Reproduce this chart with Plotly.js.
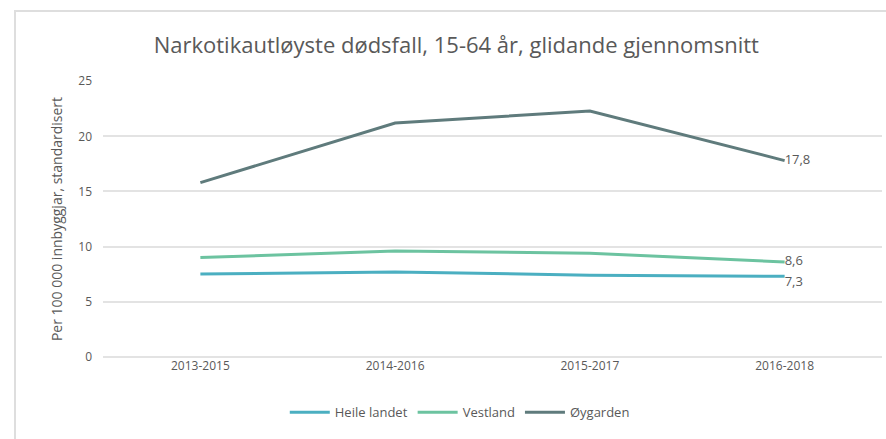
<!DOCTYPE html>
<html>
<head>
<meta charset="utf-8">
<script src="https://cdn.plot.ly/plotly-3.0.1.min.js"></script>
<style>
html,body{margin:0;padding:0;background:#fff;}
#wrap{position:relative;width:886px;height:439px;overflow:hidden;}
#chart{width:886px;height:439px;}
#frame{position:absolute;left:14px;top:10px;width:880px;height:440px;border-left:2px solid #dedede;border-top:2px solid #dedede;pointer-events:none;}
</style>
</head>
<body>
<div id="wrap"><div id="chart"></div><div id="frame"></div></div>
<script>
const categories = ["2013-2015", "2014-2016", "2015-2017", "2016-2018"];
const heileLandet = [7.5, 7.7, 7.4, 7.3];
const vestland = [9.0, 9.6, 9.4, 8.6];
const oygarden = [15.8, 21.2, 22.3, 17.8];
const seriesNames = ["Heile landet", "Vestland", "Øygarden"];
const colors = ["#4BAFC1", "#6CC3A0", "#5F7B7C"];

function lastLabel(arr){
  return arr.map((v,i)=> i===arr.length-1 ? v.toFixed(1).replace('.', ',') : '');
}

const font = "Open Sans, sans-serif";
const traces = [heileLandet, vestland, oygarden].map((vals, i) => ({
  x: categories,
  y: vals,
  name: seriesNames[i],
  type: 'scatter',
  mode: 'lines+text',
  text: lastLabel(vals),
  textposition: i === 0 ? 'bottom right' : 'middle right',
  textfont: {family: font, size: 13, color: '#595959'},
  line: {color: colors[i], width: 3},
  cliponaxis: false,
  hoverinfo: 'skip'
}));

const layout = {
  width: 886, height: 439,
  margin: {l: 103, r: 4, t: 81, b: 82},
  paper_bgcolor: '#fff', plot_bgcolor: '#fff',
  separators: ', ',
  font: {family: font, color: '#595959'},
  title: {
    text: 'Narkotikautløyste dødsfall, 15-64 år, glidande gjennomsnitt',
    font: {family: font, size: 22, color: '#595959'},
    x: 0.515, xanchor: 'center', y: 0.897, yanchor: 'middle'
  },
  xaxis: {
    type: 'category', range: [-0.5, 3.5],
    showgrid: false, zeroline: false, showline: false,
    ticks: '', tickfont: {family: font, size: 12, color: '#595959'},
    fixedrange: true
  },
  yaxis: {
    range: [-0.02, 25.02], dtick: 5, tick0: 0,
    showgrid: true, gridcolor: '#e3e3e3', gridwidth: 2,
    zeroline: true, zerolinecolor: '#e3e3e3', zerolinewidth: 2,
    showline: false, ticks: '',
    tickfont: {family: font, size: 12, color: '#595959'},
    ticklabelstandoff: 10,
    title: {text: 'Per 100 000 innbyggjar, standardisert', font: {family: font, size: 14, color: '#595959'}, standoff: 12},
    fixedrange: true
  },
  showlegend: true,
  legend: {
    orientation: 'h', x: 0.458, xanchor: 'center', y: -0.2, yanchor: 'middle',
    font: {family: font, size: 13, color: '#595959'},
    itemwidth: 40, tracegroupgap: 0
  }
};

Plotly.newPlot('chart', traces, layout, {displayModeBar: false, staticPlot: true});
</script>
</body>
</html>
